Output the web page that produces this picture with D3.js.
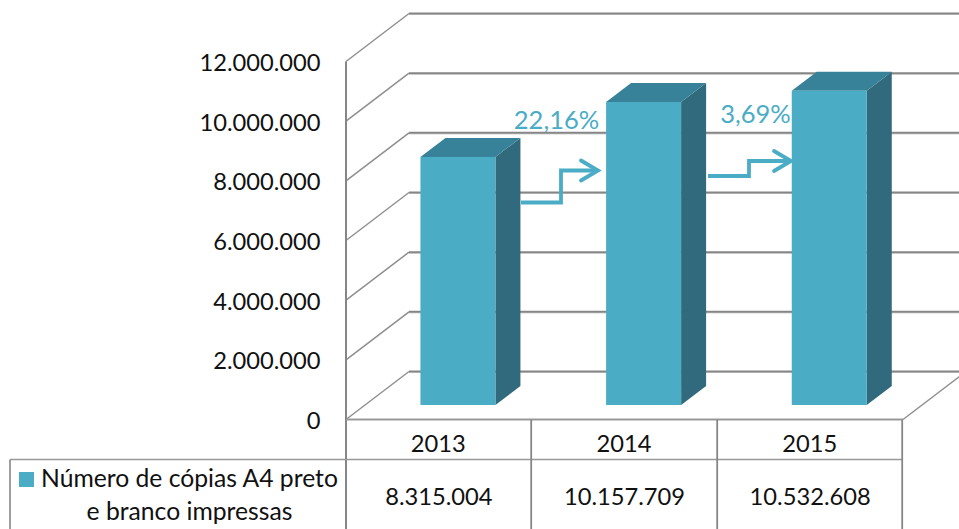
<!DOCTYPE html>
<html><head><meta charset="utf-8">
<script src="https://cdn.jsdelivr.net/npm/d3@7/dist/d3.min.js"></script>
<style>
html,body{margin:0;padding:0;background:#fff}
svg{display:block}
text{font-family:Lato,"Open Sans",sans-serif;fill:#111}
.axis path,.axis line{display:none}
</style></head><body>
<svg id="c" width="959" height="529"></svg>
<script>
const categories = ["2013","2014","2015"];
const values = [8315004,10157709,10532608];
const tickValues = [0,2000000,4000000,6000000,8000000,10000000,12000000];
const tableValueLabels = ["8.315.004","10.157.709","10.532.608"];
const legendLines = ["Número de cópias A4 preto","e branco impressas"];
const growthLabels = ["22,16%","3,69%"];

const FRONT="#4BACC6", TOP="#378298", SIDE="#316A7C", GRID="#868686", ACC="#4BACC6";
const W=959,H=529, FS=23.7;
const svg=d3.select("#c");
const y=d3.scaleLinear().domain([0,12000000]).range([419.5,61.5]);
const x=d3.scaleBand().domain(categories).range([346,903]);
const wallDx=63, wallDy=-48, insetDx=19.1, insetDy=-14.5, depthDx=25, depthDy=-19, barW=75;
const fmt=d3.formatLocale({decimal:",",thousands:".",grouping:[3],currency:["",""]}).format(",d");

// wall gridlines
const grid=svg.append("g").attr("stroke",GRID).attr("fill","none");
tickValues.forEach(t=>{
  const yy=y(t);
  grid.append("line").attr("x1",346).attr("y1",yy).attr("x2",346+wallDx).attr("y2",yy+wallDy).attr("stroke-width",1.5).attr("stroke","#8f8f8f");
  grid.append("line").attr("x1",346+wallDx).attr("y1",yy+wallDy+1).attr("x2",W).attr("y2",yy+wallDy+1).attr("stroke","#d4d4d4").attr("stroke-width",1.2);
  grid.append("line").attr("x1",346+wallDx).attr("y1",yy+wallDy).attr("x2",W).attr("y2",yy+wallDy).attr("stroke-width",2);
});
// floor right edge, front axis
grid.append("line").attr("x1",903).attr("y1",y(0)).attr("x2",903+wallDx).attr("y2",y(0)+wallDy).attr("stroke-width",1.5).attr("stroke","#8f8f8f");
grid.append("line").attr("x1",346).attr("y1",y(12000000)).attr("x2",346).attr("y2",rowBottom()).attr("stroke-width",2);
function rowBottom(){return H;}
grid.append("line").attr("x1",346).attr("y1",y(0)).attr("x2",903).attr("y2",y(0)).attr("stroke-width",2).attr("stroke","#999");

// table
const rowTop=459.5;
const tbl=svg.append("g").attr("stroke",GRID).attr("stroke-width",1.6).attr("fill","none");
tbl.append("line").attr("x1",10).attr("y1",rowTop).attr("x2",903).attr("y2",rowTop).attr("stroke","#999");
tbl.append("line").attr("x1",10).attr("y1",rowTop).attr("x2",10).attr("y2",H);
categories.forEach(c=>{
  const xr=Math.floor(x(c)+x.bandwidth())+0.2;
  tbl.append("line").attr("x1",xr).attr("y1",y(0)).attr("x2",xr).attr("y2",H).attr("stroke-width",1.8);
});
const mid=c=>x(c)+x.bandwidth()/2;
svg.append("g").selectAll("text").data(categories).join("text").attr("x",c=>mid(c)-0.5).attr("y",451.5)
  .attr("text-anchor","middle").attr("font-size",FS).text(d=>d);
svg.append("g").selectAll("text").data(tableValueLabels).join("text").attr("x",(d,i)=>mid(categories[i])).attr("y",505)
  .attr("text-anchor","middle").attr("font-size",FS).text(d=>d);
// legend
svg.append("rect").attr("x",19).attr("y",472).attr("width",15).attr("height",15).attr("fill",FRONT);
svg.append("text").attr("x",41).attr("y",487).attr("font-size",24.7).text(legendLines[0]);
svg.append("text").attr("x",189.5).attr("y",520).attr("text-anchor","middle").attr("font-size",24.7).text(legendLines[1]);

// y axis labels
const ax=svg.append("g").attr("class","axis").attr("transform","translate(320.5,1)")
  .call(d3.axisLeft(y).tickValues(tickValues).tickFormat(fmt).tickSize(0).tickPadding(0));
ax.selectAll("text").attr("font-size",FS).attr("dy","0.34em").style("font-family",'Lato,"Open Sans",sans-serif').style("fill","#111");

// bars
const bw=x.bandwidth();
const bars=svg.append("g").selectAll("g").data(categories.map((c,i)=>({c,v:values[i]}))).join("g");
const bx=d=>x(d.c)+bw/2-barW/2+insetDx;
const base=y(0)+insetDy;
const topY=d=>y(d.v)+insetDy;
bars.append("path").attr("fill",SIDE).attr("d",d=>{
  const r=bx(d)+barW;
  return `M${r},${topY(d)}L${r+depthDx},${topY(d)+depthDy}L${r+depthDx},${base+depthDy}L${r},${base}Z`;});
bars.append("path").attr("fill",TOP).attr("d",d=>{
  const l=bx(d),r=l+barW,t=topY(d);
  return `M${l},${t}L${l+depthDx},${t+depthDy}L${r+depthDx},${t+depthDy}L${r},${t}Z`;});
bars.append("rect").attr("fill",FRONT).attr("x",bx).attr("y",topY).attr("width",barW).attr("height",d=>base-topY(d));

// growth arrows
const arrows=[
 {s:[521,202.5],m:561,e:[598,170.5]},
 {s:[708,176],m:749,e:[791,161]}];
const ag=svg.append("g").attr("fill","none").attr("stroke",ACC).attr("stroke-width",3.8).attr("stroke-linecap","round").attr("stroke-linejoin","miter");
arrows.forEach(a=>{
  ag.append("path").attr("stroke-linecap","butt").attr("d",`M${a.s[0]},${a.s[1]}H${a.m}V${a.e[1]}H${a.e[0]}`);
  ag.append("path").attr("d",`M${a.e[0]-17},${a.e[1]-10}L${a.e[0]},${a.e[1]}L${a.e[0]-17},${a.e[1]+10}`);
});
const lab=[[556.5,129],[755.5,123]];
svg.append("g").selectAll("text").data(growthLabels).join("text")
  .attr("x",(d,i)=>lab[i][0]).attr("y",(d,i)=>lab[i][1]).attr("text-anchor","middle")
  .attr("font-size",25.5).style("fill",ACC).text(d=>d);
</script>
</body></html>
